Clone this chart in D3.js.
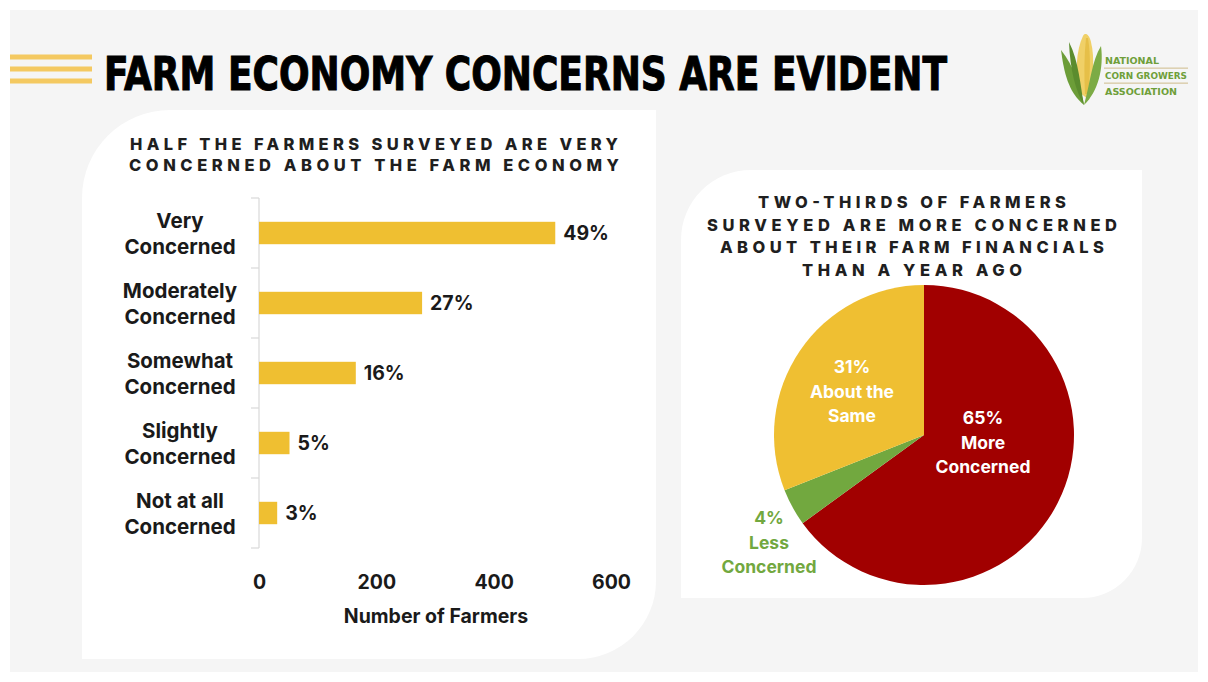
<!DOCTYPE html>
<html><head><meta charset="utf-8">
<script src="https://cdn.jsdelivr.net/npm/d3@7"></script>
<style>
html,body{margin:0;padding:0;background:#fff;}
svg{display:block;}
</style></head>
<body>
<svg id="c" width="1208" height="682"></svg>
<script>
// ---------- DATA ----------
const barCategories = [["Very","Concerned"],["Moderately","Concerned"],["Somewhat","Concerned"],["Slightly","Concerned"],["Not at all","Concerned"]];
const barValues = [505, 278, 165, 52, 31];
const barPercents = ["49%","27%","16%","5%","3%"];
const xTicks = [0, 200, 400, 600];
const pieLabels = [["65%","More","Concerned"],["4%","Less","Concerned"],["31%","About the","Same"]];
const pieValues = [65, 4, 31];
const pieColors = ["#a10000", "#72a83f", "#efbf32"];
const barTitle = ["HALF THE FARMERS SURVEYED ARE VERY","CONCERNED ABOUT THE FARM ECONOMY"];
const pieTitle = ["TWO-THIRDS OF FARMERS","SURVEYED ARE MORE CONCERNED","ABOUT THEIR FARM FINANCIALS","THAN A YEAR AGO"];
const mainTitle = "FARM ECONOMY CONCERNS ARE EVIDENT";

const svg = d3.select("#c");
const bodyFont = "Inter, 'Noto Sans', 'DejaVu Sans', sans-serif";
const capsFont = "Inter, 'Open Sans', 'Noto Sans', sans-serif";

// background
svg.append("rect").attr("x",10).attr("y",10).attr("width",1188).attr("height",662).attr("fill","#f5f5f5");

// card helper: rounded top-left and bottom-right
function card(x0,y0,x1,y1,r1,r2){
  return `M${x0},${y0+r1} A${r1},${r1} 0 0 1 ${x0+r1},${y0} L${x1},${y0} L${x1},${y1-r2} A${r2},${r2} 0 0 1 ${x1-r2},${y1} L${x0},${y1} Z`;
}
svg.append("path").attr("d",card(82,110,656,659,88,78)).attr("fill","#fff");
svg.append("path").attr("d",card(681,170,1142,598,70,60)).attr("fill","#fff");

// header stripes
[57,69,81].forEach(y=>svg.append("rect").attr("x",10).attr("y",y-2.5).attr("width",82).attr("height",5).attr("fill","#f4c961"));

svg.append("text").attr("x",104).attr("y",90).text(mainTitle)
  .attr("font-family","'Liberation Sans Narrow','DejaVu Sans Condensed','DejaVu Sans',Arial,sans-serif")
  .attr("font-weight",700).attr("font-size",47).attr("fill","#000")
  .attr("textLength",843).attr("lengthAdjust","spacingAndGlyphs")
  .attr("stroke","#000").attr("stroke-width",1);

// logo
const logo = svg.append("g");
// back left leaf
logo.append("path").attr("d","M1061,50 C1064,72 1068,92 1084,105 C1080,86 1074,66 1061,50 Z").attr("fill","#6c9d38");
// cob
logo.append("path").attr("d","M1083,36 C1076,50 1075,74 1079,92 L1089,100 C1093,80 1095,58 1091,42 C1089,34 1085,32 1083,36 Z").attr("fill","#f0d067");
logo.append("path").attr("d","M1086,38 C1084,56 1084,76 1085,94 L1088,94 C1090,76 1091,56 1088,38 Z").attr("fill","#e6bf48");
// right leaf
logo.append("path").attr("d","M1101,46 C1092,60 1090,84 1084,105 C1098,92 1104,68 1101,46 Z").attr("fill","#7cab45");
// front left leaf
logo.append("path").attr("d","M1069,42 C1070,70 1076,92 1084,105 C1080,84 1079,62 1069,42 Z").attr("fill","#5b8c2e");
const logoFont = "'Liberation Sans Narrow','DejaVu Sans Condensed','DejaVu Sans',sans-serif";
[["NATIONAL",64,54],["CORN GROWERS",79,82],["ASSOCIATION",95,72]].forEach(([t,y,w])=>{
  logo.append("text").attr("x",1105).attr("y",y).text(t).attr("font-family",logoFont)
    .attr("font-weight",700).attr("font-size",9.5).attr("fill","#6f9f3a")
    .attr("textLength",w).attr("lengthAdjust","spacingAndGlyphs");
});
[67.5,82.5].forEach(y=>logo.append("rect").attr("x",1104).attr("y",y).attr("width",84).attr("height",1.3).attr("fill","#d8c9a4"));

// ---------- BAR CHART ----------
const x = d3.scaleLinear().domain([0,600]).range([259,611]);
const y = d3.scaleBand().domain(d3.range(barValues.length)).range([198,548]).paddingInner(0.68).paddingOuter(0.34);
const yb = d3.scaleBand().domain(d3.range(barValues.length)).range([198,548]);

// title
barTitle.forEach((t,i)=>{
  svg.append("text").attr("x",374).attr("y",150+i*21).text(t).attr("text-anchor","middle")
   .attr("font-family",capsFont).attr("font-weight",800).attr("font-size",16.5)
   .attr("fill","#1f1f1f").attr("textLength",[488,490][i]).attr("lengthAdjust","spacing");
});

// axis line and band ticks
svg.append("line").attr("x1",259).attr("x2",259).attr("y1",198).attr("y2",548).attr("stroke","#d9d9d9").attr("stroke-width",1.2);
d3.range(barValues.length+1).forEach(i=>{
  const yy = 198 + i*yb.bandwidth();
  svg.append("line").attr("x1",251).attr("x2",259).attr("y1",yy).attr("y2",yy).attr("stroke","#d9d9d9").attr("stroke-width",1.2);
});

svg.selectAll(".bar").data(barValues).join("rect")
  .attr("x",x(0)).attr("y",(d,i)=>y(i)).attr("width",d=>x(d)-x(0)).attr("height",y.bandwidth()).attr("fill","#efbf31");

svg.selectAll(".pct").data(barPercents).join("text")
  .attr("x",(d,i)=>x(barValues[i])+8).attr("y",(d,i)=>y(i)+y.bandwidth()/2+7).text(d=>d)
  .attr("font-family",bodyFont).attr("font-weight",700).attr("font-size",19.5).attr("fill","#1a1a1a");

barCategories.forEach((lines,i)=>{
  const cy = yb(i)+yb.bandwidth()/2;
  lines.forEach((l,j)=>{
    svg.append("text").attr("x",180).attr("y",cy-5+j*26).text(l).attr("text-anchor","middle")
      .attr("font-family",bodyFont).attr("font-weight",700).attr("font-size",20.5).attr("fill","#1a1a1a");
  });
});

const xAxis = svg.append("g").attr("transform","translate(0,578)")
  .call(d3.axisBottom(x).tickValues(xTicks).tickSize(0).tickPadding(0));
xAxis.select(".domain").remove();
xAxis.selectAll("text").attr("font-family",bodyFont).attr("font-weight",700).attr("font-size",19.5).attr("fill","#1a1a1a").attr("dy","0.55em");

svg.append("text").attr("x",436).attr("y",623).attr("text-anchor","middle").text("Number of Farmers")
  .attr("font-family",bodyFont).attr("font-weight",700).attr("font-size",19.5).attr("fill","#1a1a1a");

// ---------- PIE ----------
const cx = 924, cy = 435, R = 150;
pieTitle.forEach((t,i)=>{
  svg.append("text").attr("x",912).attr("y",208+i*22.5).text(t).attr("text-anchor","middle")
   .attr("font-family",capsFont).attr("font-weight",800).attr("font-size",16.5)
   .attr("fill","#1f1f1f").attr("textLength",[308,410,384,220][i]).attr("lengthAdjust","spacing");
});
const pie = d3.pie().sort(null).value(d=>d)(pieValues);
const arc = d3.arc().innerRadius(0).outerRadius(R);
const pg = svg.append("g").attr("transform",`translate(${cx},${cy})`);
pg.selectAll("path").data(pie).join("path").attr("d",arc).attr("fill",(d,i)=>pieColors[i]);

const labelPos = [[983,424],[769,524],[852,373]];
const labelColors = ["#fff","#72a83f","#fff"];
pieLabels.forEach((lines,i)=>{
  lines.forEach((l,j)=>{
    svg.append("text").attr("x",labelPos[i][0]).attr("y",labelPos[i][1]+j*24.5).text(l).attr("text-anchor","middle")
      .attr("font-family",bodyFont).attr("font-weight",700).attr("font-size",17.5).attr("fill",labelColors[i]);
  });
});
</script>
</body></html>
